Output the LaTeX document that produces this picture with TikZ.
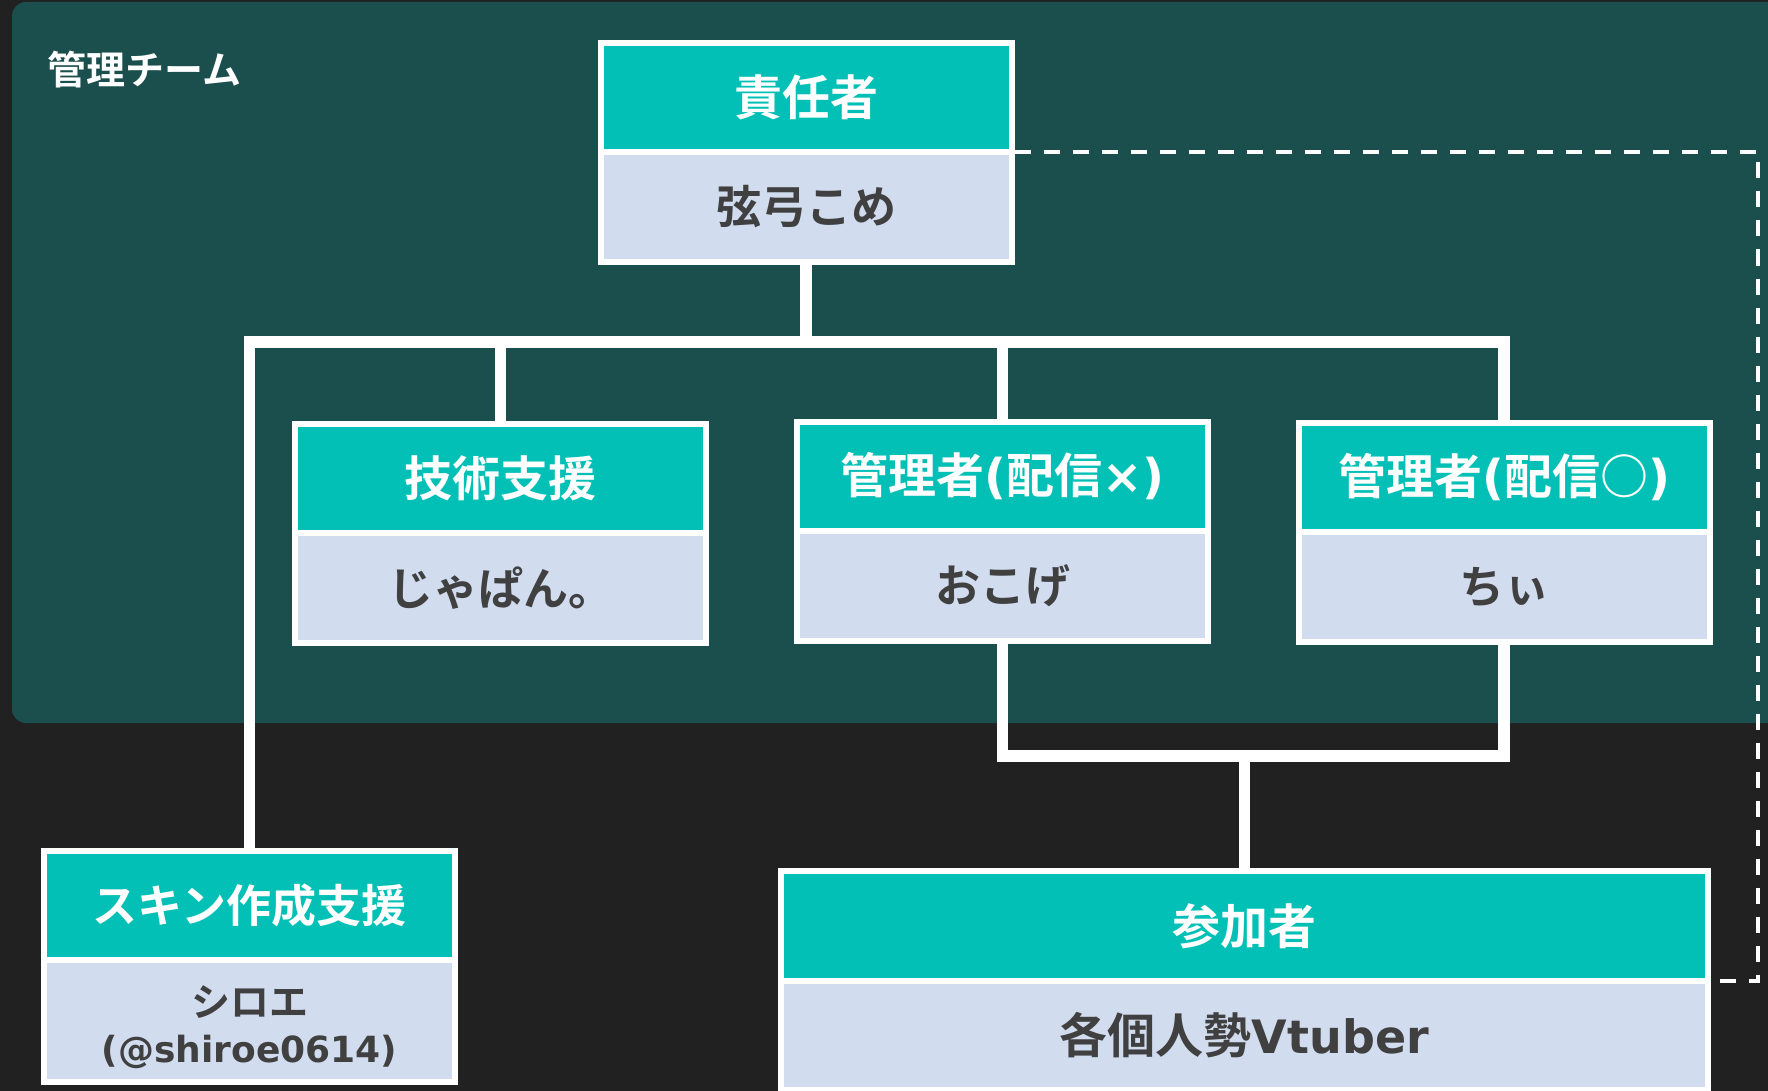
\documentclass[tikz,border=0pt]{standalone}
\usepackage{fontspec}
\setmainfont{Noto Sans CJK JP}[BoldFont={Noto Sans CJK JP Bold}]
\newfontfamily\lat{DejaVu Sans}[BoldFont={DejaVu Sans Bold}]
\definecolor{bgdark}{HTML}{212121}
\definecolor{panelteal}{HTML}{1A4F4E}
\definecolor{hdrteal}{HTML}{03C0B6}
\definecolor{bodyblue}{HTML}{D1DCEF}
\definecolor{txtdark}{HTML}{404040}
\tikzset{
  boxpart/.style={draw=white, line width=6pt, rectangle, inner sep=0pt, outer sep=0pt,
    minimum width=411pt},
  hdr/.style={boxpart, fill=hdrteal, text=white, minimum height=109pt,
    font=\fontsize{48}{56}\selectfont\bfseries},
  bdy/.style={boxpart, fill=bodyblue, text=txtdark, minimum height=110pt,
    font=\fontsize{45}{54}\selectfont\bfseries},
  conn/.style={draw=white, line width=11.5pt, line join=miter},
  dashline/.style={draw=white, line width=4.5pt, dash pattern=on 16pt off 13pt},
  lbltext/.style={inner sep=0pt, text=txtdark},
}
\begin{document}
\begin{tikzpicture}[x=1pt, y=-1pt]
  \useasboundingbox (0,0) rectangle (1768,1091);
  \clip (0,0) rectangle (1768,1091);
  \fill[bgdark] (0,0) rectangle (1768,1091);
  \fill[panelteal, rounded corners=14pt] (12,2) rectangle (1800,723);

  \node[anchor=west, inner sep=0pt, text=white,
        font=\fontsize{39}{46}\selectfont\bfseries] (title) at (47,70) {管理チーム};

  % boxes
  \node[hdr, anchor=north] (sekH) at (806,43) {責任者};
  \node[bdy, anchor=north] (sekB) at (sekH.south) {弦弓こめ};

  \node[hdr, anchor=north] (gijH) at (500.5,424) {技術支援};
  \node[bdy, anchor=north] (gijB) at (gijH.south) {じゃぱん。};

  \node[hdr, anchor=north] (batH) at (1002.5,422) {管理者{\lat(}配信{\lat×)}};
  \node[bdy, anchor=north] (batB) at (batH.south) {おこげ};

  \node[hdr, anchor=north] (maruH) at (1504,423) {管理者{\lat(}配信○{\lat)}};
  \node[bdy, anchor=north] (maruB) at (maruH.south) {ちぃ};

  \node[hdr, anchor=north, font=\fontsize{45}{54}\selectfont\bfseries] (skinH) at (249.5,851) {スキン作成支援};
  \node[bdy, anchor=north, minimum height=122pt] (skinB) at (skinH.south) {};
  \node[lbltext, font=\fontsize{39}{46}\selectfont\bfseries] (skinN) at (249.5,1002) {シロエ};
  \node[lbltext, font=\lat\fontsize{36}{40}\selectfont\bfseries] (skinID) at (249.5,1052) {(@shiroe0614)};

  \node[hdr, anchor=north, minimum width=927pt, minimum height=110pt] (sankaH) at (1244.5,871) {参加者};
  \node[bdy, anchor=north, minimum width=927pt, minimum height=109pt,
        font=\fontsize{48}{56}\selectfont\bfseries] (sankaB) at (sankaH.south)
    {各個人勢{\lat\fontsize{46}{54}\selectfont Vtuber}};

  % connectors
  \coordinate (busY) at (0,342);
  \coordinate (lowY) at (0,756);
  \coordinate (dashX) at (1758,0);
  \draw[conn] (sekB.south) -- (sekB.south |- busY);
  \draw[conn] (skinH.north) -- (skinH.north |- busY) -- (maruH.north |- busY) -- (maruH.north);
  \draw[conn] (gijH.north) -- (gijH.north |- busY);
  \draw[conn] (batH.north) -- (batH.north |- busY);
  \draw[conn] (batB.south) -- (batB.south |- lowY) -- (maruB.south |- lowY) -- (maruB.south);
  \draw[conn] (sankaH.north) -- (sankaH.north |- lowY);
  \draw[dashline] ([xshift=3pt]sekB.north east) -- (dashX |- sekB.north)
     -- (dashX |- sankaB.north) -- ([xshift=3pt]sankaB.north east);
\end{tikzpicture}
\end{document}
